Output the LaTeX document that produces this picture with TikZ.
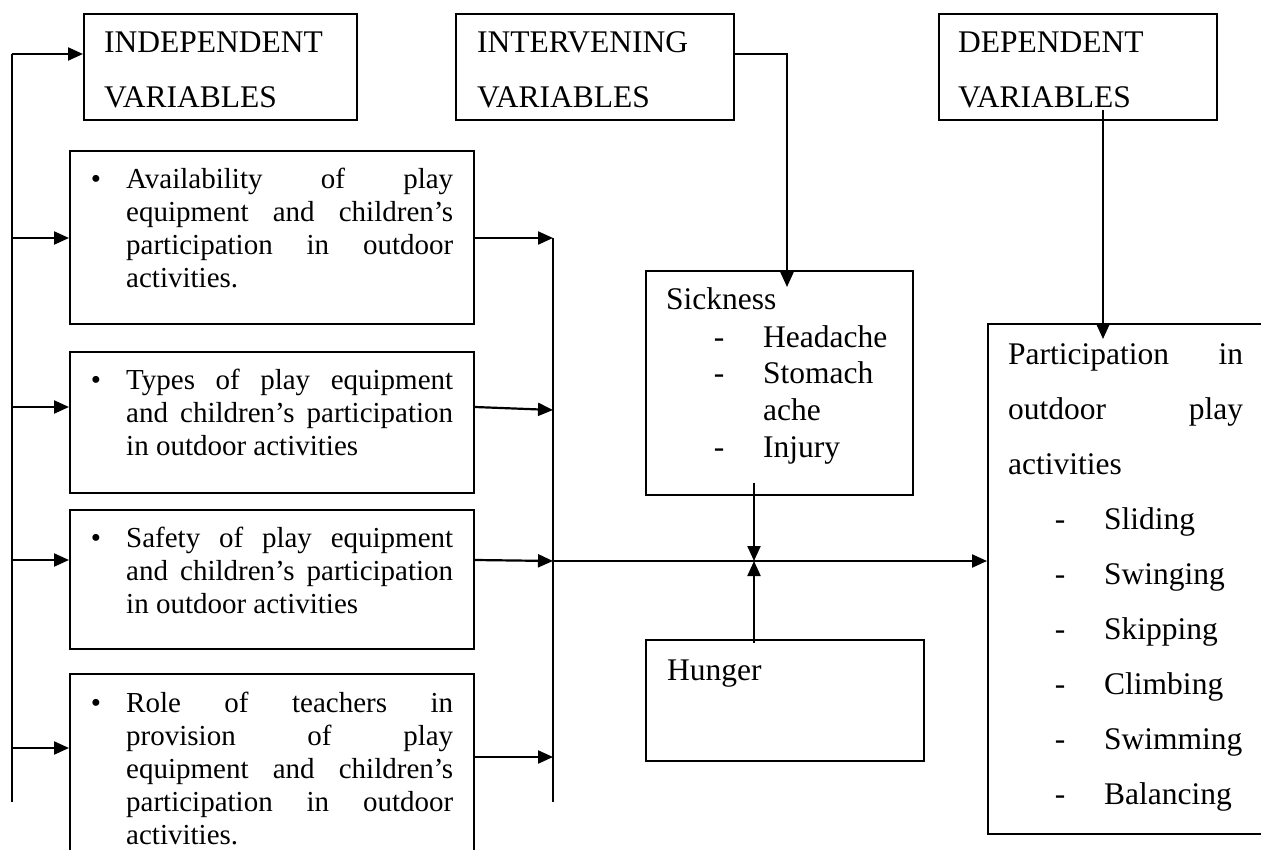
\documentclass[tikz,border=0pt]{standalone}
\usepackage{fontspec}
\setmainfont{Liberation Serif}
\usetikzlibrary{arrows.meta}
\tikzset{
  lbox/.style={draw, line width=2pt, inner sep=0pt, anchor=north west},
  rbox/.style={draw, line width=1.6pt, inner sep=0pt, anchor=north west},
  conn/.style={line width=2.2pt},
  arr/.style={conn, -{Triangle[length=15pt,width=13pt]}},
  ttxt/.style={anchor=base west, inner sep=0pt, font=\fontsize{31.5}{36}\selectfont},
  ltxt/.style={anchor=base west, inner sep=0pt, font=\fontsize{29}{33}\selectfont},
  bul/.style={anchor=base, inner sep=0pt, font=\fontsize{29}{33}\selectfont},
  dsh/.style={anchor=base, inner sep=0pt, font=\fontsize{31.5}{36}\selectfont}
}
\newcommand{\jl}[1]{\makebox[327pt][s]{#1}}
\newcommand{\jr}[1]{\makebox[235pt][s]{#1}}
\begin{document}
\begin{tikzpicture}[x=1pt,y=-1pt]
\useasboundingbox (0,0) rectangle (1261,850);
\clip (0,0) rectangle (1261,850);
\fill[white] (0,0) rectangle (1261,850);

% header boxes
\node[lbox, minimum width=273pt, minimum height=106pt] (ind) at (83,13) {};
\node[rbox, minimum width=278pt, minimum height=106pt] (int) at (455,13) {};
\node[rbox, minimum width=278pt, minimum height=106pt] (dep) at (938,13) {};
\node[ttxt] (indt1) at (104,53) {INDEPENDENT};
\node[ttxt] (indt2) at (104,108) {VARIABLES};
\node[ttxt] (intt1) at (477,53) {INTERVENING};
\node[ttxt] (intt2) at (477,108) {VARIABLES};
\node[ttxt] (dept1) at (958,53) {DEPENDENT};
\node[ttxt] (dept2) at (958,108) {VARIABLES};

% independent variable boxes
\node[lbox, minimum width=404pt, minimum height=173pt] (b1) at (69,150) {};
\node[lbox, minimum width=404pt, minimum height=141pt] (b2) at (69,351) {};
\node[lbox, minimum width=404pt, minimum height=139pt] (b3) at (69,509) {};
\node[lbox, minimum width=404pt, minimum height=190pt] (b4) at (69,673) {};

\node[bul] (u1) at (96,189) {\textbullet};
\node[ltxt] (b1l1) at (126,189) {\jl{Availability of play}};
\node[ltxt] (b1l2) at (126,222) {\jl{equipment and children’s}};
\node[ltxt] (b1l3) at (126,255) {\jl{participation in outdoor}};
\node[ltxt] (b1l4) at (126,288) {activities.};

\node[bul] (u2) at (96,389) {\textbullet};
\node[ltxt] (b2l1) at (126,389) {\jl{Types of play equipment}};
\node[ltxt] (b2l2) at (126,422) {\jl{and children’s participation}};
\node[ltxt] (b2l3) at (126,455) {in outdoor activities};

\node[bul] (u3) at (96,547) {\textbullet};
\node[ltxt] (b3l1) at (126,547) {\jl{Safety of play equipment}};
\node[ltxt] (b3l2) at (126,580) {\jl{and children’s participation}};
\node[ltxt] (b3l3) at (126,613) {in outdoor activities};

\node[bul] (u4) at (96,712) {\textbullet};
\node[ltxt] (b4l1) at (126,712) {\jl{Role of teachers in}};
\node[ltxt] (b4l2) at (126,745) {\jl{provision of play}};
\node[ltxt] (b4l3) at (126,778) {\jl{equipment and children’s}};
\node[ltxt] (b4l4) at (126,811) {\jl{participation in outdoor}};
\node[ltxt] (b4l5) at (126,844) {activities.};

% intervening boxes
\node[rbox, minimum width=267pt, minimum height=224pt] (sick) at (645,270) {};
\node[ttxt] (sk0) at (666,310) {Sickness};
\node[dsh] (sd1) at (719,347) {-};
\node[ttxt] (sk1) at (763,347) {Headache};
\node[dsh] (sd2) at (719,383) {-};
\node[ttxt] (sk2) at (763,383) {Stomach};
\node[ttxt] (sk3) at (763,420) {ache};
\node[dsh] (sd3) at (719,457) {-};
\node[ttxt] (sk4) at (763,457) {Injury};

\node[rbox, minimum width=278pt, minimum height=121pt] (hung) at (645,639) {};
\node[ttxt] (hg) at (667,680) {Hunger};

% dependent box
\node[rbox, minimum width=276pt, minimum height=510pt] (part) at (987,323) {};
\node[ttxt] (p1) at (1008,364) {\jr{Participation in}};
\node[ttxt] (p2) at (1008,419) {\jr{outdoor play}};
\node[ttxt] (p3) at (1008,474) {activities};
\node[dsh] (pd1) at (1060,529) {-};
\node[ttxt] (pi1) at (1104,529) {Sliding};
\node[dsh] (pd2) at (1060,584) {-};
\node[ttxt] (pi2) at (1104,584) {Swinging};
\node[dsh] (pd3) at (1060,639) {-};
\node[ttxt] (pi3) at (1104,639) {Skipping};
\node[dsh] (pd4) at (1060,694) {-};
\node[ttxt] (pi4) at (1104,694) {Climbing};
\node[dsh] (pd5) at (1060,749) {-};
\node[ttxt] (pi5) at (1104,749) {Swimming};
\node[dsh] (pd6) at (1060,804) {-};
\node[ttxt] (pi6) at (1104,804) {Balancing};

% left feeder line
\coordinate (L0) at (12,54);
\coordinate (L1) at (12,238);
\coordinate (L2) at (12,407);
\coordinate (L3) at (12,560);
\coordinate (L4) at (12,748);
\coordinate (Lend) at (12,802);
\draw[conn] (L0) -- (Lend);
\draw[arr] (L0) -- (L0 -| ind.west);
\draw[arr] (L1) -- (L1 -| b1.west);
\draw[arr] (L2) -- (L2 -| b2.west);
\draw[arr] (L3) -- (L3 -| b3.west);
\draw[arr] (L4) -- (L4 -| b4.west);

% collector line
\coordinate (C1) at (553,238);
\coordinate (C2) at (553,410);
\coordinate (C3) at (553,561);
\coordinate (C4) at (553,757);
\coordinate (Cend) at (553,802);
\draw[conn] (C1) -- (Cend);
\draw[arr] (C1 -| b1.east) -- (C1);
\draw[arr] (b2.east |- 0,407) -- (C2);
\draw[arr] (b3.east |- 0,560) -- (C3);
\draw[arr] (C4 -| b4.east) -- (C4);

% main line to dependent
\draw[arr] (C3) -- (C3 -| part.west);

% intervening connectors
\coordinate (M) at (754,561);
\draw[arr] (sick.south -| M) ++(0,-13) -- (M);
\draw[arr] (hung.north -| M) ++(0,4) -- (M);
\coordinate (I1) at (787,54);
\coordinate (I2) at (787,287);
\draw[arr] (I1 -| int.east) -- (I1) -- (I2);

% dependent connector
\coordinate (D1) at (1103,110);
\coordinate (D2) at (1103,339);
\draw[arr] (D1) -- (D2);
\end{tikzpicture}
\end{document}
